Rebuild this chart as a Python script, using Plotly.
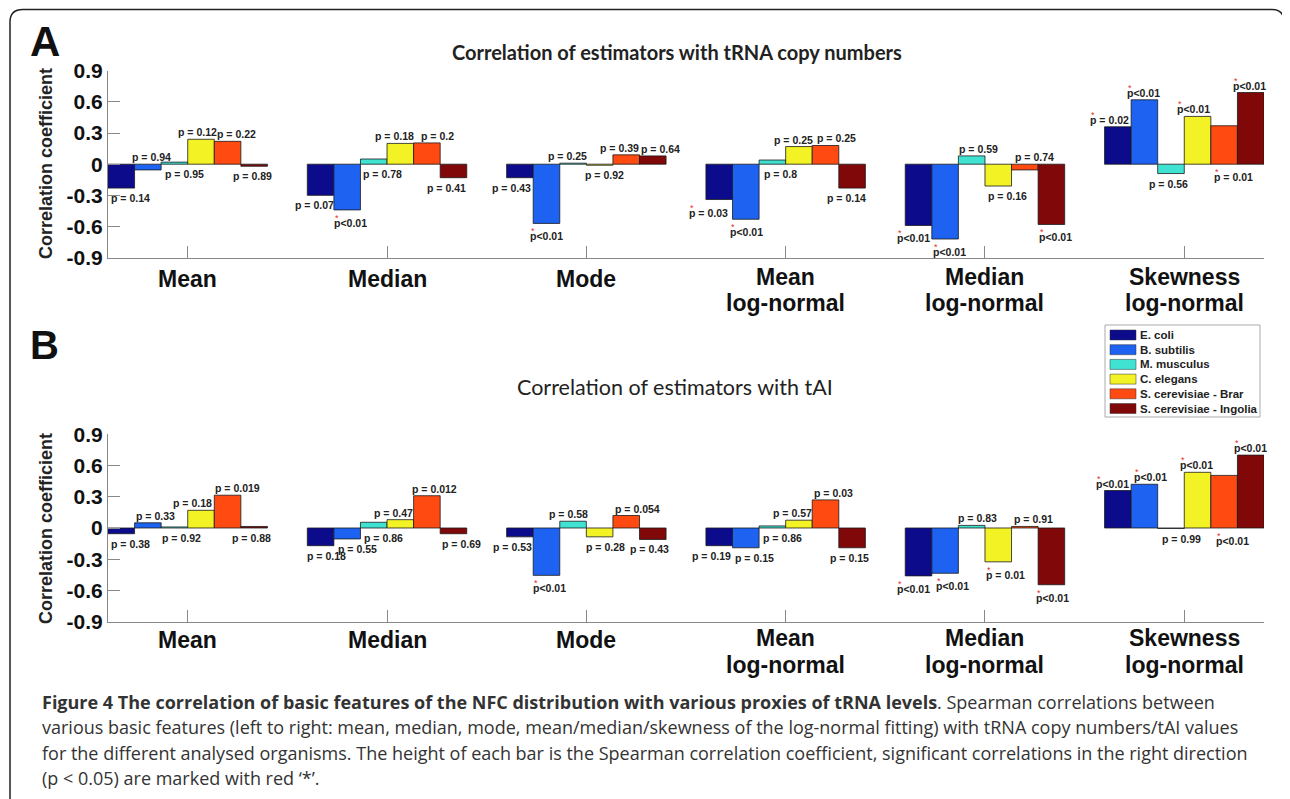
import plotly.graph_objects as go

W, H = 1290, 799
OX, OY = 8, 8  # page body margin compensation

categories = ["Mean", "Median", "Mode", "Mean<br>log-normal", "Median<br>log-normal", "Skewness<br>log-normal"]
organisms = ["E. coli", "B. subtilis", "M. musculus", "C. elegans", "S. cerevisiae - Brar", "S. cerevisiae - Ingolia"]
colors = ["#0b0b8c", "#1d62f0", "#40e3d2", "#f2f224", "#ff4a12", "#800808"]
yticks = [-0.9, -0.6, -0.3, 0, 0.3, 0.6, 0.9]
ytick_text = ["-0.9", "-0.6", "-0.3", "0", "0.3", "0.6", "0.9"]

# Panel A: correlation with tRNA copy numbers (per organism, across the 6 estimators)
a_ecoli = [-0.23, -0.30, -0.13, -0.34, -0.59, 0.36]
a_bsub = [-0.055, -0.44, -0.57, -0.53, -0.72, 0.62]
a_mmus = [0.02, 0.05, 0.01, 0.04, 0.08, -0.09]
a_cel = [0.24, 0.20, -0.01, 0.17, -0.21, 0.46]
a_brar = [0.22, 0.205, 0.09, 0.18, -0.055, 0.37]
a_ing = [-0.02, -0.13, 0.08, -0.23, -0.58, 0.69]

a_p_ecoli = ["0.14", "0.07", "0.43", "0.03", "<0.01", "0.02"]
a_p_bsub = ["0.94", "<0.01", "<0.01", "<0.01", "<0.01", "<0.01"]
a_p_mmus = ["0.95", "0.78", "0.25", "0.8", "0.59", "0.56"]
a_p_cel = ["0.12", "0.18", "0.92", "0.25", "0.16", "<0.01"]
a_p_brar = ["0.22", "0.2", "0.39", "0.25", "0.74", "0.01"]
a_p_ing = ["0.89", "0.41", "0.64", "0.14", "<0.01", "<0.01"]

a_sig_ecoli = [0, 0, 0, 1, 1, 1]
a_sig_bsub = [0, 1, 1, 1, 1, 1]
a_sig_mmus = [0, 0, 0, 0, 0, 0]
a_sig_cel = [0, 0, 0, 0, 0, 1]
a_sig_brar = [0, 0, 0, 0, 0, 1]
a_sig_ing = [0, 0, 0, 0, 1, 1]

# Panel B: correlation with tAI
b_ecoli = [-0.055, -0.17, -0.085, -0.17, -0.46, 0.36]
b_bsub = [0.05, -0.105, -0.455, -0.19, -0.435, 0.42]
b_mmus = [0.01, 0.055, 0.065, 0.02, 0.025, -0.005]
b_cel = [0.17, 0.08, -0.085, 0.075, -0.325, 0.535]
b_brar = [0.315, 0.31, 0.12, 0.27, 0.015, 0.505]
b_ing = [0.015, -0.055, -0.11, -0.19, -0.545, 0.70]

b_p_ecoli = ["0.38", "0.18", "0.53", "0.19", "<0.01", "<0.01"]
b_p_bsub = ["0.33", "0.55", "<0.01", "0.15", "<0.01", "<0.01"]
b_p_mmus = ["0.92", "0.86", "0.58", "0.86", "0.83", "0.99"]
b_p_cel = ["0.18", "0.47", "0.28", "0.57", "0.01", "<0.01"]
b_p_brar = ["0.019", "0.012", "0.054", "0.03", "0.91", "<0.01"]
b_p_ing = ["0.88", "0.69", "0.43", "0.15", "<0.01", "<0.01"]

b_sig_ecoli = [0, 0, 0, 0, 1, 1]
b_sig_bsub = [0, 0, 1, 0, 1, 1]
b_sig_mmus = [0, 0, 0, 0, 0, 0]
b_sig_cel = [0, 0, 0, 0, 1, 1]
b_sig_brar = [0, 0, 0, 0, 0, 1]
b_sig_ing = [0, 0, 0, 0, 1, 1]

panel_a_vals = [a_ecoli, a_bsub, a_mmus, a_cel, a_brar, a_ing]
panel_a_p = [a_p_ecoli, a_p_bsub, a_p_mmus, a_p_cel, a_p_brar, a_p_ing]
panel_a_sig = [a_sig_ecoli, a_sig_bsub, a_sig_mmus, a_sig_cel, a_sig_brar, a_sig_ing]
panel_b_vals = [b_ecoli, b_bsub, b_mmus, b_cel, b_brar, b_ing]
panel_b_p = [b_p_ecoli, b_p_bsub, b_p_mmus, b_p_cel, b_p_brar, b_p_ing]
panel_b_sig = [b_sig_ecoli, b_sig_bsub, b_sig_mmus, b_sig_cel, b_sig_brar, b_sig_ing]

# --- label layout (style): side of each p-value label and horizontal nudge in px, [category][organism]
a_side = [["d", "u", "d", "u", "u", "d"],
          ["d", "d", "d", "u", "u", "d"],
          ["d", "d", "u", "d", "u", "u"],
          ["d", "d", "d", "u", "u", "d"],
          ["d", "d", "u", "d", "u", "d"],
          ["u", "u", "d", "u", "d", "u"]]
b_side = [["d", "u", "d", "u", "u", "d"],
          ["d", "d", "d", "u", "u", "d"],
          ["d", "d", "u", "d", "u", "d"],
          ["d", "d", "d", "u", "u", "d"],
          ["d", "d", "u", "d", "u", "d"],
          ["u", "u", "d", "u", "d", "u"]]
a_dx = [[1, -5, 2, -12, 1, -10],
        [-14, -2, 1, -14, 5, -15],
        [-17, -5, -14, -3, -15, 0],
        [-19, -5, 3, -14, 3, -14],
        [-10, -1, -1, 1, 1, -1],
        [-17, -6, -11, -9, 1, -6]]
b_dx = [[1, -1, -1, -17, -1, -11],
        [-2, 2, 2, -15, -4, 0],
        [-16, -2, -13, -2, 0, -11],
        [-16, 0, 2, -15, 0, -11],
        [-10, 2, -2, -1, 0, -4],
        [-11, 1, 2, -6, 3, -5]]


def px(x):
    return (x - OX) / W


def py(y):
    return 1 - (y - OY) / H


BAR_W = 0.8 / 6
x_pos = list(range(1, len(categories) + 1))

fig = go.Figure()

for xa, ya, vals in [("x", "y", panel_a_vals), ("x2", "y2", panel_b_vals)]:
    for o, name in enumerate(organisms):
        fig.add_trace(go.Bar(
            x=x_pos, y=vals[o], name=name, xaxis=xa, yaxis=ya,
            marker=dict(color=colors[o], line=dict(color="#1a1a1a", width=0.8)),
            showlegend=False,
        ))

SANS = "Liberation Sans, Arial, sans-serif"
axis_font = dict(family=SANS, size=21, color="#111")
cat_font = dict(family=SANS, size=23, color="#111")

xcommon = dict(range=[0.6, 6.4], tickvals=x_pos, showticklabels=False,
               ticks="inside", ticklen=12, tickcolor="#888", showline=True, linecolor="#888",
               linewidth=1, showgrid=False, zeroline=False,
               domain=[px(108), px(1264)])
ycommon = dict(range=[-0.9, 0.9], tickvals=yticks, ticktext=["<b>%s</b>" % t for t in ytick_text],
               ticks="inside", ticklen=12, tickcolor="#888", showline=True, linecolor="#888",
               linewidth=1, showgrid=False, zeroline=False, tickfont=axis_font)

fig.update_layout(
    width=W, height=H, autosize=False,
    margin=dict(l=0, r=0, t=0, b=0, pad=0, autoexpand=False),
    paper_bgcolor="white", plot_bgcolor="white",
    barmode="group", bargap=0.2, bargroupgap=0,
    showlegend=False,
    xaxis=dict(**xcommon, anchor="y"),
    yaxis=dict(**ycommon, anchor="x", domain=[py(257.7), py(70.7)]),
    xaxis2=dict(**xcommon, anchor="y2"),
    yaxis2=dict(**ycommon, anchor="x2", domain=[py(621.7), py(434.3)]),
)

annotations = []
label_font = dict(family=SANS, size=10.5, color="#222")

for xr, yr, vals, pv, sig, side, dx in [
    ("x", "y", panel_a_vals, panel_a_p, panel_a_sig, a_side, a_dx),
    ("x2", "y2", panel_b_vals, panel_b_p, panel_b_sig, b_side, b_dx),
]:
    for c in range(len(categories)):
        for o in range(len(organisms)):
            v = vals[o][c]
            ptxt = pv[o][c]
            txt = ("p" + ptxt) if ptxt.startswith("<") else ("p = " + ptxt)
            left = x_pos[c] + (o - 2.5) * BAR_W - BAR_W / 2
            starred = bool(sig[o][c])
            if side[c][o] == "d":
                yv, ysh = min(v, 0), (-13 if starred else -10)
            else:
                yv, ysh = max(v, 0), 7
            annotations.append(dict(
                x=left, y=yv, xref=xr, yref=yr, text="<b>%s</b>" % txt.replace("<", "&lt;"),
                showarrow=False, xanchor="left", yanchor="middle",
                xshift=dx[c][o], yshift=ysh, font=label_font))
            if starred:
                annotations.append(dict(
                    x=left, y=yv, xref=xr, yref=yr, text="*",
                    showarrow=False, xanchor="left", yanchor="middle",
                    xshift=dx[c][o] + 1, yshift=ysh + 5,
                    font=dict(family=SANS, size=9, color="#e8302a")))


def paper_text(x, y, text, font, **kw):
    d = dict(x=px(x), y=py(y), xref="paper", yref="paper", text=text, showarrow=False,
             xanchor="center", yanchor="middle", font=font)
    d.update(kw)
    return d


# category labels below each panel's x axis (tighter line spacing than tick labels allow)
for xr, single_y, line1_y, line2_y in [("x", 279, 276.5, 303.5), ("x2", 640, 637.5, 664.5)]:
    for c, cat in enumerate(categories):
        parts = cat.split("<br>")
        ys = [single_y] if len(parts) == 1 else [line1_y, line2_y]
        for part, yy in zip(parts, ys):
            annotations.append(dict(x=x_pos[c], y=py(yy), xref=xr, yref="paper",
                                    text="<b>%s</b>" % part, showarrow=False,
                                    xanchor="center", yanchor="middle", font=cat_font))

annotations += [
    paper_text(45, 42, "<b>A</b>", dict(family=SANS, size=42, color="#111")),
    paper_text(44, 345, "<b>B</b>", dict(family=SANS, size=40, color="#111")),
    paper_text(677, 52, "<b>Correlation of estimators with tRNA copy numbers</b>",
               dict(family="Lato, sans-serif", size=20, color="#222")),
    paper_text(675, 387, "Correlation of estimators with tAI",
               dict(family="Lato, sans-serif", size=21.5, color="#222")),
    paper_text(46, 164, "<b>Correlation coefficient</b>", dict(family=SANS, size=18, color="#222"),
               textangle=-90),
    paper_text(46, 529, "<b>Correlation coefficient</b>", dict(family=SANS, size=18, color="#222"),
               textangle=-90),
]

# manual legend
shapes = [dict(type="rect", xref="paper", yref="paper", x0=px(1105), x1=px(1260), y0=py(417), y1=py(325),
               line=dict(color="#aaa", width=1), fillcolor="white")]
for i, name in enumerate(organisms):
    yc = 335 + 14.7 * i
    shapes.append(dict(type="rect", xref="paper", yref="paper", x0=px(1110), x1=px(1136),
                       y0=py(yc + 5), y1=py(yc - 5), line=dict(color="#333", width=0.5),
                       fillcolor=colors[i]))
    annotations.append(paper_text(1138, yc, "<b>%s</b>" % name,
                                  dict(family=SANS, size=11.5, color="#222"), xanchor="left"))

# frame (rounded corners at the top)
frame = "M %f,%f L %f,%f Q %f,%f %f,%f L %f,%f Q %f,%f %f,%f L %f,%f" % (
    px(10), py(805), px(10), py(22), px(10), py(9.5), px(23), py(9.5),
    px(1272), py(9.5), px(1284), py(9.5), px(1284), py(22), px(1284), py(640))
shapes.append(dict(type="path", path=frame, xref="paper", yref="paper", line=dict(color="#222", width=1.5)))

caption_lines = [
    "<b>Figure 4 The correlation of basic features of the NFC distribution with various proxies of tRNA levels</b>. Spearman correlations between",
    "various basic features (left to right: mean, median, mode, mean/median/skewness of the log-normal fitting) with tRNA copy numbers/tAI values",
    "for the different analysed organisms. The height of each bar is the Spearman correlation coefficient, significant correlations in the right direction",
    "(p &lt; 0.05) are marked with red \u2018*\u2019.",
]
for i, line in enumerate(caption_lines):
    annotations.append(paper_text(40, 702 + 25.3 * i, line,
                                  dict(family="Open Sans, sans-serif", size=18, color="#333"),
                                  xanchor="left"))

fig.update_layout(annotations=annotations, shapes=shapes)
fig.write_html("out.html")
